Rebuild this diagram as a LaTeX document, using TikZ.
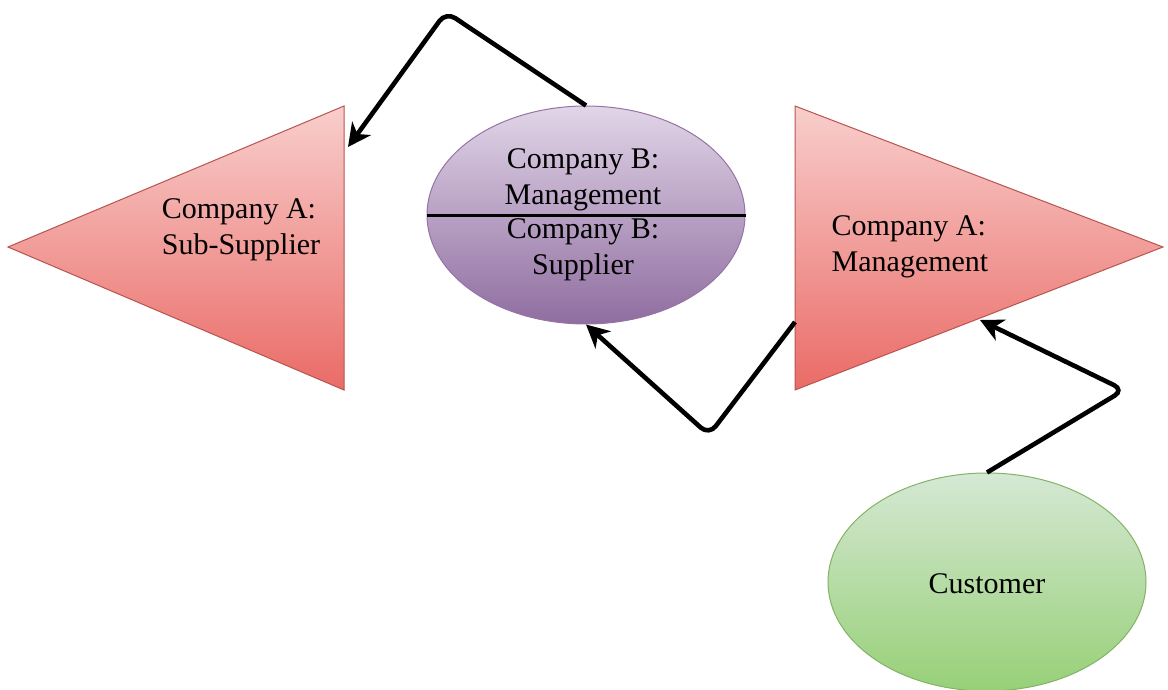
\documentclass[tikz,border=0pt]{standalone}
\usepackage{fontspec}
\setmainfont{Liberation Serif}
\usetikzlibrary{shapes.geometric,arrows.meta}

\definecolor{redtop}{HTML}{F8CECC}
\definecolor{redbot}{HTML}{EA6B66}
\definecolor{redline}{HTML}{B85450}
\definecolor{purtop}{HTML}{E1D5E7}
\definecolor{purbot}{HTML}{8F6DA0}
\definecolor{purline}{HTML}{9673A6}
\definecolor{grntop}{HTML}{D5E8D4}
\definecolor{grnbot}{HTML}{97D077}
\definecolor{grnline}{HTML}{82B366}

\tikzset{
  label/.style={font=\fontsize{30}{36}\selectfont, align=left, inner sep=0pt},
  clabel/.style={font=\fontsize{30}{36}\selectfont, align=center, inner sep=0pt},
  redtri/.style={top color=redtop, bottom color=redbot, draw=redline, line width=1pt},
  blob/.style={ellipse, minimum width=318pt, minimum height=218pt, inner sep=0pt, line width=1pt},
  flow/.style={line width=4.6pt, rounded corners=11pt, -{Stealth[length=23pt,width=23pt,inset=7pt]}},
}

\begin{document}
\begin{tikzpicture}[x=1pt,y=-1pt]
\useasboundingbox (0,0) rectangle (1168,690);

% Company A: Sub-Supplier (left-pointing triangle)
\shade[redtri] (344,106) -- (8,247) -- (344,390) -- cycle;
\node[label] (subsup) at (241,230) {Company A:\\Sub-Supplier};
\coordinate (subsupIn) at (348,147);

% Company A: Management (right-pointing triangle)
\shade[redtri] (795,106) -- (1163,247) -- (795,390) -- cycle;
\node[label] (mgmtA) at (910,247) {Company A:\\Management};
\coordinate (mgmtAOut) at (795,322);
\coordinate (mgmtAIn) at (980,320);

% Company B: management / supplier split ellipse
\node[blob, draw=purline, top color=purtop, bottom color=purbot] (compB) at (586,215) {};
\draw[line width=3pt] (compB.west) -- (compB.east);
\node[clabel] (compBtop) at (583,180) {Company B:\\Management};
\node[clabel] (compBbot) at (583,250) {Company B:\\Supplier};

% Customer
\node[blob, draw=grnline, top color=grntop, bottom color=grnbot] (cust) at (987,582) {};
\node[clabel] (custtxt) at (987,584) {Customer};

% Flow connectors
\draw[flow] (compB.north) -- (446,12) -- (subsupIn);
\draw[flow] (mgmtAOut) -- (709,435) -- (compB.south);
\draw[flow] (cust.north) -- (1124,390) -- (mgmtAIn);
\end{tikzpicture}
\end{document}
